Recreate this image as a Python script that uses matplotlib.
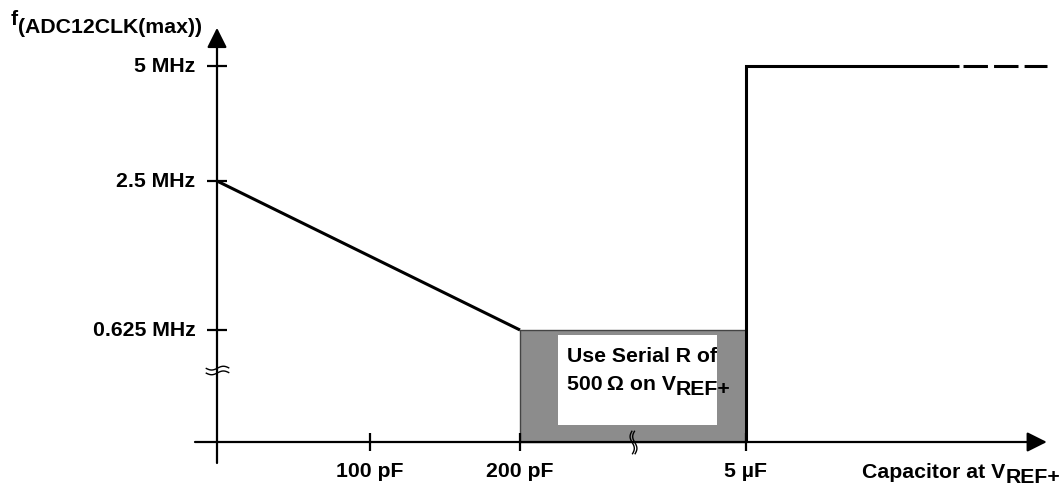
import numpy as np
import matplotlib.pyplot as plt
from matplotlib.path import Path
from matplotlib.patches import Rectangle
from matplotlib.transforms import IdentityTransform

plt.rcParams['font.family'] = ['Liberation Sans', 'DejaVu Sans']
plt.rcParams['font.weight'] = 'bold'

# tick values and labels
freq_ticks = [0.625, 2.5, 5]            # MHz
freq_labels = ['0.625 MHz', '2.5 MHz', '5 MHz']
cap_ticks = [100, 200, 5e6]             # pF
cap_labels = ['100 pF', '200 pF', '5 \u00b5F']

# f(ADC12CLK(max)) vs capacitor at VREF+
slope_cap = [0, 200]
slope_freq = [2.5, 0.625]
step_cap = [5e6, 5e6, 1.85e7]
step_freq = [0, 5, 5]
dash_cap = [1.88e7, 2.41e7]
dash_freq = [5, 5]

# region where a serial R is needed
serial_cap = [200, 5e6]
serial_freq = 0.625

W, H = 1061, 491
fig = plt.figure(figsize=(W / 100, H / 100), dpi=100)
ax = fig.add_axes([0, 0, 1, 1])
ax.axis('off')

# schematic (broken) axes: value -> figure pixel
x_nodes = [-142, 0, 100, 200, 5e6, 2.5e7]
x_px = [0, 217, 370, 520, 746, W]
y_nodes = [-0.273, 0, 0.625, 2.5, 5, 6.435]
y_px = [0, 49, 161, 310, 425, H]

ax.set_xscale('function', functions=(lambda v: np.interp(v, x_nodes, x_px),
                                     lambda p: np.interp(p, x_px, x_nodes)))
ax.set_yscale('function', functions=(lambda v: np.interp(v, y_nodes, y_px),
                                     lambda p: np.interp(p, y_px, y_nodes)))
ax.set_xlim(x_nodes[0], x_nodes[-1])
ax.set_ylim(y_nodes[0], y_nodes[-1])

# shaded region + white note box
ax.fill_between(serial_cap, 0, serial_freq, facecolor='#8c8c8c',
                edgecolor='#444444', lw=1.0, zorder=1)
ax.add_patch(Rectangle((558, H - 425), 159, 90, transform=IdentityTransform(),
                       facecolor='white', edgecolor='none', zorder=2))

# axes with arrows
arrow = dict(arrowstyle='-|>', lw=1.6, color='black', mutation_scale=30,
             shrinkA=0, shrinkB=0)
ax.annotate('', xy=(0, 5.83), xytext=(0, -0.117), arrowprops=arrow, zorder=3)
ax.annotate('', xy=(2.41e7, 0), xytext=(-14.4, 0), arrowprops=arrow, zorder=3)

# ticks
ax.plot([0] * len(freq_ticks), freq_ticks, ls='none', marker='_', ms=15,
        mew=1.6, color='black', zorder=3)
ax.plot(cap_ticks, [0] * len(cap_ticks), ls='none', marker='|', ms=13,
        mew=1.6, color='black', zorder=3)

fs = 15.3
for f, lab in zip(freq_ticks, freq_labels):
    ax.annotate(lab, xy=(0, f), xytext=(-15.5, 0), textcoords='offset points',
                ha='right', va='center', fontsize=fs)
for c, lab in zip(cap_ticks, cap_labels):
    ax.annotate(lab, xy=(c, 0), xytext=(0, -21), textcoords='offset points',
                ha='center', va='center', fontsize=fs)

# curve
ax.plot(slope_cap, slope_freq, color='black', lw=2.2, zorder=4,
        solid_capstyle='butt')
ax.plot(step_cap, step_freq, color='black', lw=2.2, zorder=4,
        solid_joinstyle='miter', solid_capstyle='butt')
ax.plot(dash_cap, dash_freq, color='black', lw=2.2, dashes=(8, 2), zorder=4)

# break marks
t = np.linspace(-1, 1, 25)
codes = ([Path.MOVETO] + [Path.LINETO] * (len(t) - 1)) * 2
wave = np.concatenate([np.column_stack([t, 0.16 * np.sin(np.pi * t) + dy])
                       for dy in (-0.2, 0.2)])
ax.plot([0], [0.4], marker=Path(wave, codes), ms=17, mew=1.0,
        mfc='none', color='black', ls='none', zorder=5)
swave = np.concatenate([np.column_stack([-0.18 * np.sin(np.pi * t) + dx, t])
                        for dx in (-0.11, 0.11)])
ax.plot([2.5e6], [0], marker=Path(swave, codes), ms=17, mew=1.0,
        mfc='none', color='black', ls='none', zorder=5)

# texts
pix = IdentityTransform()
ax.text(11, H - 25, 'f', transform=pix, ha='left', va='baseline', fontsize=fs)
ax.text(18, H - 33, '(ADC12CLK(max))', transform=pix, ha='left',
        va='baseline', fontsize=fs)

t2 = ax.text(862, H - 472, 'Capacitor at V', transform=pix, ha='left',
             va='center', fontsize=fs)
ax.annotate('REF+', xy=(1, 0.5), xycoords=t2, xytext=(0, -4),
            textcoords='offset points', ha='left', va='center', fontsize=fs)

ax.text(642, H - 357, 'Use Serial R of', transform=pix, ha='center',
        va='center', fontsize=fs, zorder=6)
t3 = ax.text(567, H - 384, '500\u2009\u03a9 on V', transform=pix, ha='left',
             va='center', fontsize=fs, zorder=6)
ax.annotate('REF+', xy=(1, 0.5), xycoords=t3, xytext=(0, -4),
            textcoords='offset points', ha='left', va='center', fontsize=fs,
            zorder=6)

fig.savefig('out.png', dpi=100)
